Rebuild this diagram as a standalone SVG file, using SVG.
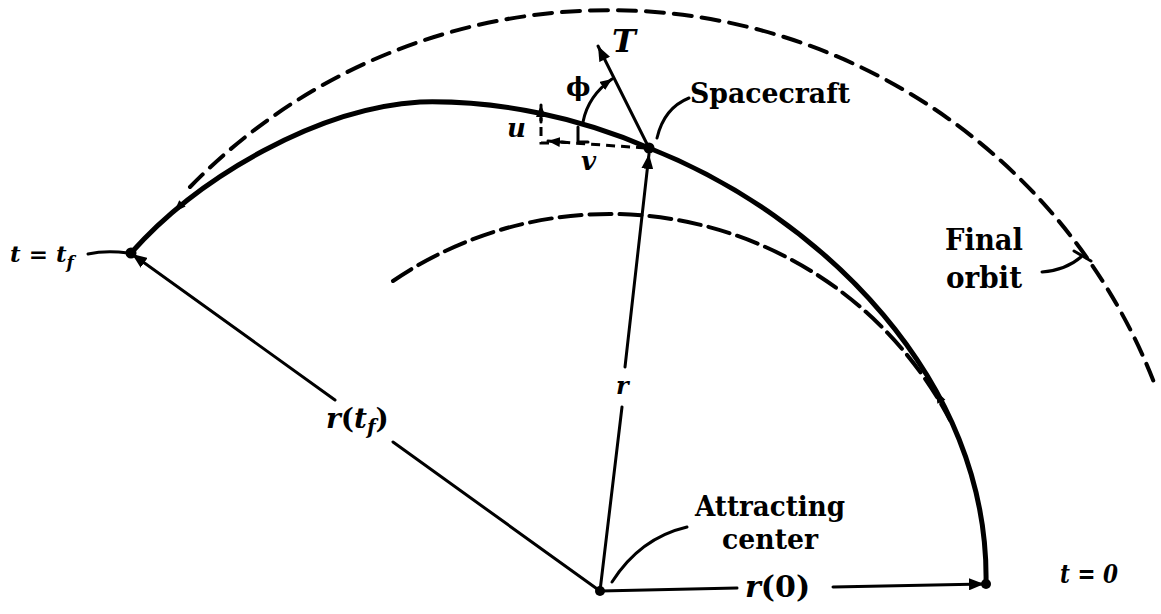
<svg xmlns="http://www.w3.org/2000/svg" width="1161" height="614" viewBox="0 0 1161 614">
<style>
.ln{fill:none;stroke:#000;stroke-width:3;stroke-linecap:round;stroke-linejoin:round}
.arc{fill:none;stroke:#000;stroke-width:5;stroke-linecap:round}
.dash{fill:none;stroke:#000;stroke-width:4;stroke-linecap:round}
.d2{fill:none;stroke:#000;stroke-width:3;stroke-dasharray:9 6}
.lbl{font-family:"DejaVu Serif","Liberation Serif",serif;font-weight:bold;fill:#000}
.mth{font-family:"DejaVu Serif","Liberation Serif",serif;font-weight:bold;font-style:italic;fill:#000}
.dot{fill:#000}
</style>
<defs>
<marker id="arr" markerUnits="userSpaceOnUse" markerWidth="16" markerHeight="12" refX="15" refY="6" orient="auto">
<path d="M0,0 L15,6 L0,12 z" fill="#000"/>
</marker>
<marker id="arrs" markerUnits="userSpaceOnUse" markerWidth="13" markerHeight="10" refX="12" refY="5" orient="auto">
<path d="M0,0 L12,5 L0,10 z" fill="#000"/>
</marker>
</defs>

<g id="orbits">
<path id="final-orbit" class="dash" stroke-dasharray="18 10" d="M190,187 A585,585 0 0 1 1155,385"/>
<path id="initial-orbit" class="dash" stroke-dasharray="22 8" d="M393,281 A384,384 0 0 1 950,420"/>
<path id="transfer" class="arc" d="M986,584 C990,380 820,215 649,148 C580,118 500,100 420,102 C320,108 200,175 131,253"/>
<polygon points="936,391 945.4,399.7 937.4,403.7" fill="#000"/>
<polygon points="174,212 185.6,206.6 179.2,200.2" fill="#000"/>
</g>

<g id="connectors">
<path class="ln" d="M600,591 L622,407"/>
<path class="ln" d="M625,367 L649,154" marker-end="url(#arr)"/>
<path class="ln" d="M600,591 L393,442"/>
<path class="ln" d="M335,400 L132,254" marker-end="url(#arr)"/>
<path class="ln" d="M600,591 L737,588"/>
<path class="ln" d="M833,587 L984,584" marker-end="url(#arr)"/>
<path class="ln" d="M649,148 L598,46" marker-end="url(#arr)"/>
<path class="ln" d="M583,122 Q588,96 612,79" marker-end="url(#arrs)"/>
<path class="ln" d="M578,127 L578,142 L588,142"/>
<path class="d2" d="M645,148 L560,142"/>
<path class="ln" d="M566,142.5 L548,141" marker-end="url(#arrs)"/>
<path class="d2" d="M549,143 L541,143 L541,118"/>
<path class="ln" d="M541,122 L541,105" marker-end="url(#arrs)"/>
<path class="ln" d="M657,138 Q664,108 689,98"/>
<path class="ln" d="M612,582 Q640,538 687,527"/>
<path class="ln" d="M1042,272 Q1066,270 1081,257"/>
<path class="ln" d="M1074,251 L1091,261"/>
<path class="ln" d="M88,254 Q106,250 128,253"/>
</g>

<g id="spacecraft">
<circle class="dot" cx="649" cy="148" r="5.5"/>
<text class="lbl" x="690" y="103" font-size="28" textLength="160" lengthAdjust="spacingAndGlyphs">Spacecraft</text>
</g>
<g id="final-point">
<circle class="dot" cx="131" cy="253" r="5.5"/>
<text class="mth" x="10" y="262" font-size="23">t = t<tspan font-size="17" dy="6">f</tspan></text>
</g>
<g id="attracting-center">
<circle class="dot" cx="600" cy="591" r="5"/>
<text class="lbl" x="695" y="516" font-size="28" textLength="150" lengthAdjust="spacingAndGlyphs">Attracting</text>
<text class="lbl" x="722" y="549" font-size="28" textLength="96" lengthAdjust="spacingAndGlyphs">center</text>
</g>
<g id="start-point">
<circle class="dot" cx="986" cy="584" r="5"/>
<text class="mth" x="1060" y="583" font-size="26" textLength="58" lengthAdjust="spacingAndGlyphs">t = 0</text>
</g>
<g id="final-orbit-label">
<text class="lbl" x="945" y="250" font-size="30" textLength="78" lengthAdjust="spacingAndGlyphs">Final</text>
<text class="lbl" x="946" y="288" font-size="30" textLength="76" lengthAdjust="spacingAndGlyphs">orbit</text>
</g>
<g id="labels">
<text class="mth" x="745" y="597" font-size="30">r<tspan class="lbl" font-style="normal">(0)</tspan></text>
<text class="mth" x="326" y="428" font-size="28">r<tspan font-style="normal">(</tspan>t<tspan font-size="20" dy="6">f</tspan><tspan font-style="normal" font-size="28" dy="-6">)</tspan></text>
<text class="mth" x="616" y="394" font-size="24">r</text>
<text class="mth" x="612" y="52" font-size="32">T</text>
<text class="lbl" x="566" y="96" font-size="26">ϕ</text>
<text class="mth" x="507" y="137" font-size="26">u</text>
<text class="mth" x="581" y="170" font-size="26">v</text>
</g>
</svg>
